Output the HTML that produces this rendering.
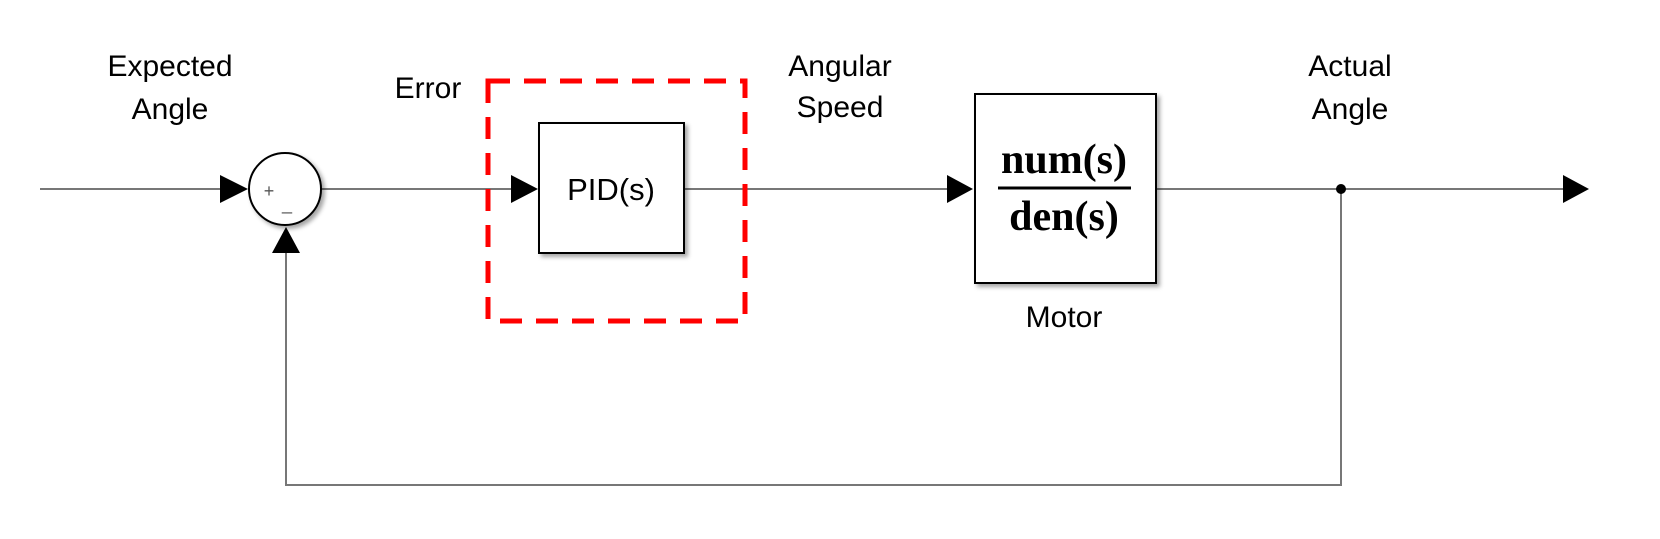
<!DOCTYPE html>
<html><head><style>
body{margin:0;background:#fff;}
svg{display:block;}
text{font-family:"Liberation Sans",Arial,sans-serif;fill:#000;}
</style></head><body>
<svg width="1660" height="539" viewBox="0 0 1660 539" xmlns="http://www.w3.org/2000/svg">
<defs>
<filter id="sh" x="-10%" y="-10%" width="130%" height="130%"><feDropShadow dx="3" dy="3" stdDeviation="2" flood-color="#000" flood-opacity="0.35"/></filter>
</defs>
<g stroke="#777" stroke-width="2" fill="none">
<line x1="40" y1="189" x2="222" y2="189"/>
<line x1="321" y1="189" x2="512" y2="189"/>
<line x1="684" y1="189" x2="948" y2="189"/>
<line x1="1156" y1="189" x2="1565" y2="189"/>
<polyline points="1341,189 1341,485 286,485 286,250"/>
</g>
<g fill="#000">
<polygon points="220,175 248,189 220,203"/>
<polygon points="511,175 538,189 511,203"/>
<polygon points="947,175 973,189 947,203"/>
<polygon points="1563,175 1589,189 1563,203"/>
<polygon points="272,253 286,227 300,253"/>
<circle cx="1341" cy="189" r="5"/>
</g>
<circle cx="285" cy="189" r="36" fill="#fff" stroke="#000" stroke-width="2" filter="url(#sh)"/>
<text x="269" y="197" font-size="18" text-anchor="middle" style="fill:#555">+</text>
<text x="287" y="210" font-size="18" text-anchor="middle" style="fill:#555">_</text>
<rect x="539" y="123" width="145" height="130" fill="#fff" stroke="#000" stroke-width="2" filter="url(#sh)"/>
<text x="611" y="200" font-size="31" text-anchor="middle">PID(s)</text>
<rect x="975" y="94" width="181" height="189" fill="#fff" stroke="#000" stroke-width="2" filter="url(#sh)"/>
<text x="1064" y="173" font-size="42" font-weight="bold" text-anchor="middle" style="font-family:'Liberation Serif',serif">num(s)</text>
<line x1="998" y1="188" x2="1131" y2="188" stroke="#000" stroke-width="3"/>
<text x="1064" y="230" font-size="42" font-weight="bold" text-anchor="middle" style="font-family:'Liberation Serif',serif">den(s)</text>
<rect x="488" y="81" width="257" height="240" fill="none" stroke="#f00" stroke-width="5" stroke-dasharray="22,14"/>
<g font-size="30" text-anchor="middle">
<text x="170" y="76">Expected</text>
<text x="170" y="119">Angle</text>
<text x="428" y="98">Error</text>
<text x="840" y="76">Angular</text>
<text x="840" y="117">Speed</text>
<text x="1350" y="76">Actual</text>
<text x="1350" y="119">Angle</text>
<text x="1064" y="327">Motor</text>
</g>
</svg>
</body></html>
